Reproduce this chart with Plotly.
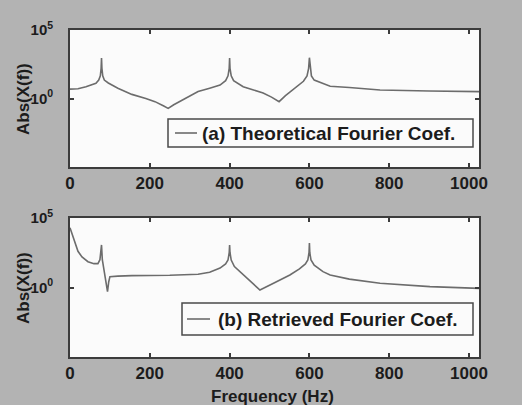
import plotly.graph_objects as go

# Frequency axis (Hz) and spectrum magnitudes for the two panels
freq_a = [0, 20, 40, 55, 65, 72, 76, 78, 79, 80, 82, 86, 96, 120, 155, 190, 213,
          235, 246, 260, 290, 321, 350, 376, 390, 396, 399, 400, 401, 404, 410,
          434, 460, 484, 505, 524, 540, 568, 585, 594, 598, 600, 602, 605, 612,
          644, 652, 700, 777, 900, 1025]
abs_a = [4.8, 5.2, 7.1, 9.5, 13, 22, 45, 160, 900, 160, 45, 22, 13.5, 5.6, 2.0,
         1.0, 0.59, 0.28, 0.19, 0.35, 1.1, 3.2, 5.6, 9.5, 20, 45, 160, 900, 160,
         45, 20, 7.2, 4.2, 2.5, 1.26, 0.59, 1.6, 7.2, 18, 45, 160, 950, 160, 45,
         22, 10, 7.9, 6.3, 4.2, 3.5, 3.2]

freq_b = [0, 5, 10, 20, 30, 45, 60, 70, 75, 78, 79, 81, 84, 90, 94, 97, 100,
          120, 155, 250, 321, 350, 376, 390, 396, 399, 400, 401, 404, 412, 426,
          450, 476, 510, 551, 575, 590, 596, 599, 600, 601, 604, 612, 634, 652,
          700, 777, 902, 1025]
abs_b = [20000, 8000, 2500, 400, 160, 72, 52, 52, 100, 400, 1150, 100, 32, 3.2,
         0.5, 2.5, 6.0, 6.6, 7.1, 7.6, 8.9, 12.6, 25, 50, 95, 320, 1150, 320, 95,
         32, 13.8, 3.2, 0.66, 2.0, 7.9, 22, 50, 95, 320, 1600, 320, 95, 40, 13.8,
         7.9, 4.0, 2.0, 1.15, 0.87]

legend_a = "(a) Theoretical Fourier Coef."
legend_b = "(b) Retrieved Fourier Coef."
x_ticks = [0, 200, 400, 600, 800, 1000]
y_ticks = [1, 1e5]
y_ticktext = ["10<sup>0</sup>", "10<sup>5</sup>"]

W, H = 522, 405
FONT = "Liberation Sans, Arial, sans-serif"
INK = "#1c1c1c"
CURVE = "#6c6c6c"
FRAME = "#3c3c3c"


def px(x):
    return x / W


def py(y):
    return 1 - y / H


fig = go.Figure()
fig.add_trace(go.Scatter(x=freq_a, y=abs_a, mode="lines", xaxis="x", yaxis="y",
                         line=dict(color=CURVE, width=1.6), showlegend=False))
fig.add_trace(go.Scatter(x=freq_b, y=abs_b, mode="lines", xaxis="x2", yaxis="y2",
                         line=dict(color=CURVE, width=1.6), showlegend=False))

xtickfont = dict(family=FONT, size=17, color=INK, weight="bold")
ytickfont = dict(family=FONT, size=15, color=INK, weight="bold")
xcommon = dict(range=[0, 1025], tickvals=x_ticks, ticks="inside", ticklen=4,
               tickwidth=1.5, tickcolor=FRAME, showline=True, linecolor=FRAME,
               linewidth=1.8, mirror="ticks", showgrid=False, zeroline=False,
               tickfont=xtickfont, automargin=False)
ycommon = dict(type="log", range=[-5, 5], tickvals=y_ticks, ticktext=y_ticktext,
               ticks="inside", ticklen=4, tickwidth=1.5, tickcolor=FRAME,
               showline=True, linecolor=FRAME, linewidth=1.8, mirror="ticks",
               showgrid=False, zeroline=False, tickfont=ytickfont,
               ticklabelstandoff=12, automargin=False)

dom_x = [px(70), px(479)]
fig.update_layout(
    width=W, height=H,
    margin=dict(l=0, r=0, t=0, b=0, autoexpand=False),
    paper_bgcolor="#b3b3b3",
    plot_bgcolor="#fbfbfb",
    xaxis=dict(domain=dom_x, anchor="y", **xcommon),
    yaxis=dict(domain=[py(167), py(30)], anchor="x", **ycommon),
    xaxis2=dict(domain=dom_x, anchor="y2", **xcommon),
    yaxis2=dict(domain=[py(357), py(218)], anchor="x2", **ycommon),
)

title_font = dict(family=FONT, size=17, color=INK, weight="bold")
annotations = [
    dict(text="Frequency (Hz)", x=px(272), y=py(396), xref="paper", yref="paper",
         xanchor="center", yanchor="middle", showarrow=False, font=title_font),
    dict(text="Abs(X(f))", x=px(23), y=py(99), xref="paper", yref="paper",
         xanchor="center", yanchor="middle", textangle=-90, showarrow=False,
         font=title_font),
    dict(text="Abs(X(f))", x=px(23), y=py(288), xref="paper", yref="paper",
         xanchor="center", yanchor="middle", textangle=-90, showarrow=False,
         font=title_font),
]

# Legend boxes for each panel: frame, line sample, label
legend_font = dict(family=FONT, size=19, color=INK, weight="bold")
shapes = []
for (bx0, by0, bx1, by1, lx0, lx1, tx, label) in [
        (168, 119, 473, 147, 175, 197, 200, legend_a),
        (182, 303, 473, 335, 187, 210, 216, legend_b)]:
    shapes.append(dict(type="rect", xref="paper", yref="paper",
                       x0=px(bx0), x1=px(bx1), y0=py(by1), y1=py(by0),
                       line=dict(color="#4a4a4a", width=1.5),
                       fillcolor="#fbfbfb", layer="above"))
    ym = (by0 + by1) / 2
    shapes.append(dict(type="line", xref="paper", yref="paper",
                       x0=px(lx0), x1=px(lx1), y0=py(ym), y1=py(ym),
                       line=dict(color=CURVE, width=1.6), layer="above"))
    annotations.append(dict(text=label, x=px(tx), y=py(ym), xref="paper",
                            yref="paper", xanchor="left", yanchor="middle",
                            showarrow=False, font=legend_font))

fig.update_layout(shapes=shapes, annotations=annotations)
fig.write_html("out.html")
